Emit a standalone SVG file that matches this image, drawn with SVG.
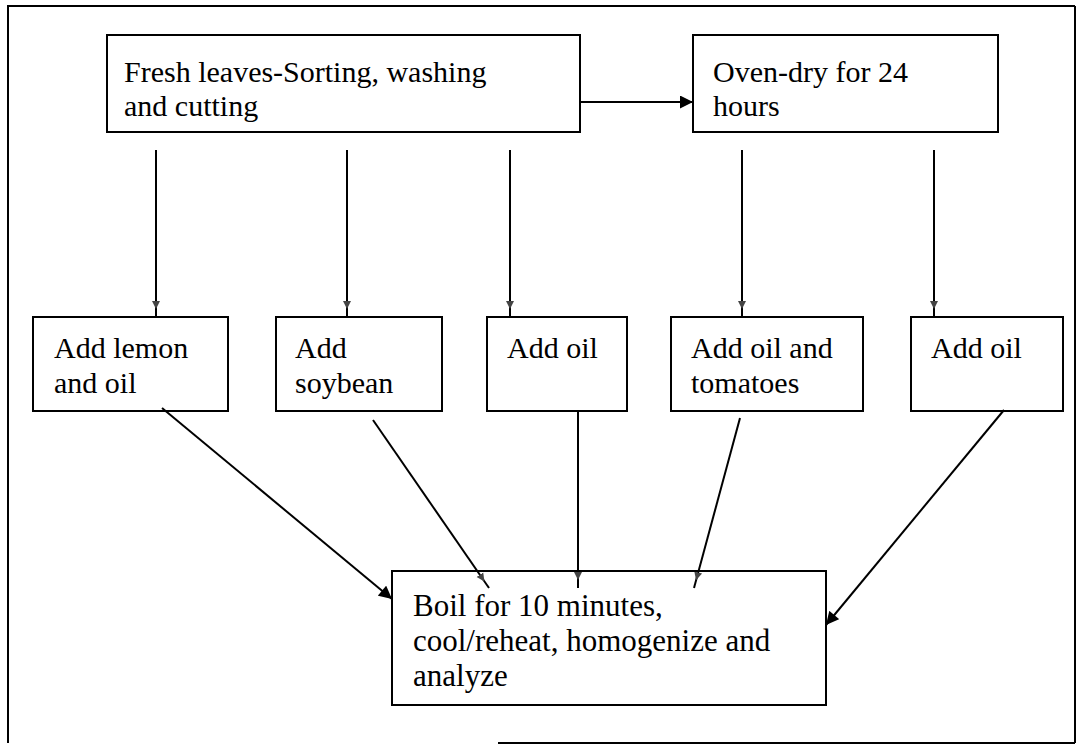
<svg xmlns="http://www.w3.org/2000/svg" width="1077" height="746" viewBox="0 0 1077 746">
<style>
.box{fill:#fff;stroke:#000;stroke-width:2}
.t{font-family:"Liberation Serif","Times New Roman",serif;font-size:30px;fill:#000}
.tb{font-family:"Liberation Serif","Times New Roman",serif;font-size:31px;fill:#000}
.c{stroke:#000;stroke-width:2;fill:none}
.cs{stroke:#000;stroke-width:2;fill:none;marker-end:url(#sm)}
.cb{stroke:#000;stroke-width:2;fill:none;marker-end:url(#big)}
</style>
<defs>
<marker id="big" viewBox="0 0 10 10" refX="10" refY="5" markerWidth="14" markerHeight="13" markerUnits="userSpaceOnUse" orient="auto"><path d="M0,0 L10,5 L0,10 z" fill="#000"/></marker>
<marker id="sm" viewBox="0 0 10 10" refX="20" refY="5" markerWidth="8" markerHeight="11" markerUnits="userSpaceOnUse" orient="auto"><path d="M0,0 L10,5 L0,10 z" fill="#444"/></marker>
</defs>
<rect width="1077" height="746" fill="#fff"/>
<g id="frame" class="c">
<path d="M1075,6 L8,6 L8,743"/>
<path d="M1075,6 L1075,743"/>
<path d="M498,743 L1075,743"/>
</g>
<g id="n1"><rect class="box" x="107" y="35" width="473" height="97"/><text class="t" x="124" y="82">Fresh leaves-Sorting, washing</text><text class="t" x="124" y="116">and cutting</text></g>
<g id="n2"><rect class="box" x="693" y="35" width="305" height="97"/><text class="t" x="713" y="82">Oven-dry for 24</text><text class="t" x="713" y="116">hours</text></g>
<g id="n3"><rect class="box" x="33" y="317" width="195" height="94"/><text class="t" x="54" y="358">Add lemon</text><text class="t" x="54" y="393">and oil</text></g>
<g id="n4"><rect class="box" x="276" y="317" width="166" height="94"/><text class="t" x="295" y="358">Add</text><text class="t" x="295" y="393">soybean</text></g>
<g id="n5"><rect class="box" x="487" y="317" width="140" height="94"/><text class="t" x="507" y="358">Add oil</text></g>
<g id="n6"><rect class="box" x="671" y="317" width="192" height="94"/><text class="t" x="691" y="358">Add oil and</text><text class="t" x="691" y="393">tomatoes</text></g>
<g id="n7"><rect class="box" x="911" y="317" width="152" height="94"/><text class="t" x="931" y="358">Add oil</text></g>
<g id="n8"><rect class="box" x="392" y="571" width="434" height="134"/><text class="tb" x="413" y="616">Boil for 10 minutes,</text><text class="tb" x="413" y="651">cool/reheat, homogenize and</text><text class="tb" x="413" y="686">analyze</text></g>
<g id="connectors">
<line class="cb" x1="580" y1="102" x2="693" y2="102"/>
<line class="cs" x1="156" y1="150" x2="156" y2="317"/>
<line class="cs" x1="347" y1="150" x2="347" y2="317"/>
<line class="cs" x1="510" y1="150" x2="510" y2="317"/>
<line class="cs" x1="742" y1="150" x2="742" y2="317"/>
<line class="cs" x1="934" y1="150" x2="934" y2="317"/>
<line class="cb" x1="162" y1="408" x2="392" y2="599"/>
<line class="cs" x1="373" y1="420" x2="489" y2="588"/>
<line class="cs" x1="578" y1="411" x2="578" y2="588"/>
<line class="cs" x1="740" y1="418" x2="694" y2="588"/>
<line class="cb" x1="1004" y1="410" x2="826" y2="625"/>
</g>
</svg>
